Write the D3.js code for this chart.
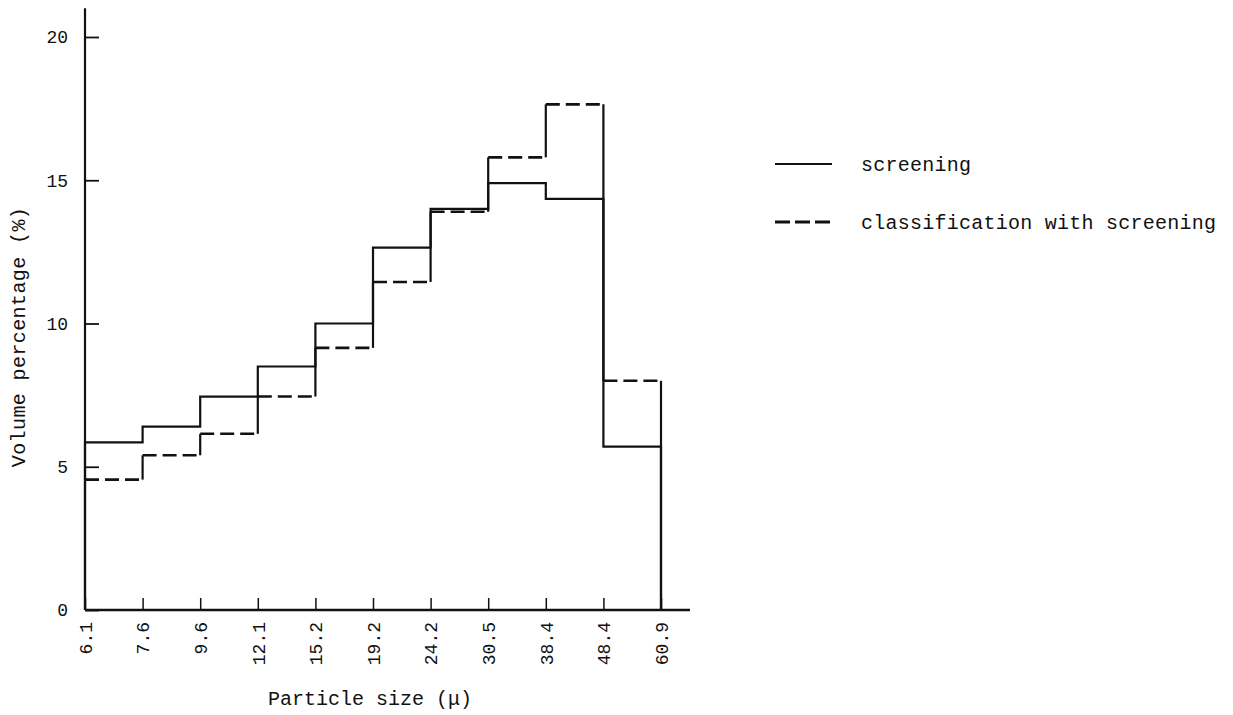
<!DOCTYPE html>
<html>
<head>
<meta charset="utf-8">
<script src="https://cdn.jsdelivr.net/npm/d3@7"></script>
<style>
  body { margin: 0; background: #fff; }
  svg { display: block; }
  text { font-family: "Liberation Mono", "DejaVu Sans Mono", monospace; fill: #111; }
  .tick text { font-size: 18px; }
  .title { font-size: 20px; }
  .legend text { font-size: 20px; }
</style>
</head>
<body>
<svg id="chart" width="1233" height="715"></svg>
<script>
/*
* Particle size histogram - screening vs classification with screening
*/

let edges = ['6.1', '7.6', '9.6', '12.1', '15.2', '19.2', '24.2', '30.5', '38.4', '48.4', '60.9'];
let screening = [5.85, 6.4, 7.45, 8.5, 10.0, 12.65, 14.0, 14.9, 14.35, 5.7];
let classified = [4.55, 5.4, 6.15, 7.45, 9.15, 11.45, 13.9, 15.8, 17.65, 8.0];
let yTicks = [0, 5, 10, 15, 20];
let seriesNames = ['screening', 'classification with screening'];

let svg = d3.select('#chart');
let x = d3.scalePoint().domain(edges).range([85, 661]);
let y = d3.scaleLinear().domain([0, 20]).range([610, 37]);

let ink = '#111';

// y axis
let yAxis = svg.append('g')
  .attr('transform', 'translate(' + x(edges[0]) + ',0)')
  .call(d3.axisLeft(y).tickValues(yTicks).tickSize(-14).tickPadding(17).tickFormat(d3.format('d')));
yAxis.select('.domain').remove();
yAxis.selectAll('.tick line').attr('stroke', ink).attr('stroke-width', 1.8);
svg.append('line')
  .attr('x1', x(edges[0])).attr('x2', x(edges[0]))
  .attr('y1', y(21)).attr('y2', y(0))
  .attr('stroke', ink).attr('stroke-width', 2.2);

// x axis
let xAxis = svg.append('g')
  .attr('transform', 'translate(0,' + y(0) + ')')
  .call(d3.axisBottom(x).tickSize(-12).tickSizeOuter(0));
xAxis.select('.domain').remove();
xAxis.selectAll('.tick line').attr('stroke', ink).attr('stroke-width', 1.5);
xAxis.selectAll('.tick text')
  .attr('transform', 'rotate(-90)')
  .attr('x', -12)
  .attr('y', 0)
  .attr('dy', '0.35em')
  .style('text-anchor', 'end');
svg.append('line')
  .attr('x1', x(edges[0])).attr('x2', 690)
  .attr('y1', y(0)).attr('y2', y(0))
  .attr('stroke', ink).attr('stroke-width', 2.4);

// solid histogram outline
let solidPts = [[x(edges[0]), y(0)]];
screening.forEach(function (v, i) {
  solidPts.push([x(edges[i]), y(v)]);
  solidPts.push([x(edges[i + 1]), y(v)]);
});
solidPts.push([x(edges[edges.length - 1]), y(0)]);

svg.append('path')
  .attr('d', d3.line()(solidPts))
  .attr('fill', 'none')
  .attr('stroke', ink)
  .attr('stroke-width', 2.2);

// dashed histogram: dashed tops, solid risers
let dashed = svg.append('g').attr('class', 'dashed-series');
dashed.selectAll('.top')
  .data(classified)
  .enter().append('line')
    .attr('class', 'top')
    .attr('x1', (d, i) => x(edges[i]))
    .attr('x2', (d, i) => x(edges[i + 1]))
    .attr('y1', d => y(d))
    .attr('y2', d => y(d))
    .attr('stroke', ink)
    .attr('stroke-width', 2.6)
    .attr('stroke-dasharray', '14,6');

dashed.selectAll('.riser')
  .data(classified)
  .enter().append('line')
    .attr('class', 'riser')
    .attr('x1', (d, i) => x(edges[i + 1]))
    .attr('x2', (d, i) => x(edges[i + 1]))
    .attr('y1', d => y(d))
    .attr('y2', (d, i) => i < classified.length - 1 ? y(classified[i + 1]) : y(0))
    .attr('stroke', ink)
    .attr('stroke-width', 2.2);

// axis titles
svg.append('text')
  .attr('class', 'title')
  .attr('transform', 'translate(25,337) rotate(-90)')
  .style('text-anchor', 'middle')
  .style('letter-spacing', '0.4px')
  .text('Volume percentage (%)');

svg.append('text')
  .attr('class', 'title')
  .attr('x', 370)
  .attr('y', 705)
  .style('text-anchor', 'middle')
  .text('Particle size (\u03bc)');

// legend
let legend = svg.append('g').attr('class', 'legend');
let rows = legend.selectAll('g')
  .data(seriesNames)
  .enter().append('g')
    .attr('transform', (d, i) => 'translate(775,' + (164 + i * 58) + ')');

rows.append('line')
  .attr('x1', 0).attr('x2', 57)
  .attr('stroke', ink)
  .attr('stroke-width', (d, i) => i ? 2.8 : 1.8)
  .attr('stroke-dasharray', (d, i) => i ? '15,5' : null);

rows.append('text')
  .attr('x', 86)
  .attr('dy', '0.35em')
  .style('letter-spacing', '0.25px')
  .text(d => d);
</script>
</body>
</html>
